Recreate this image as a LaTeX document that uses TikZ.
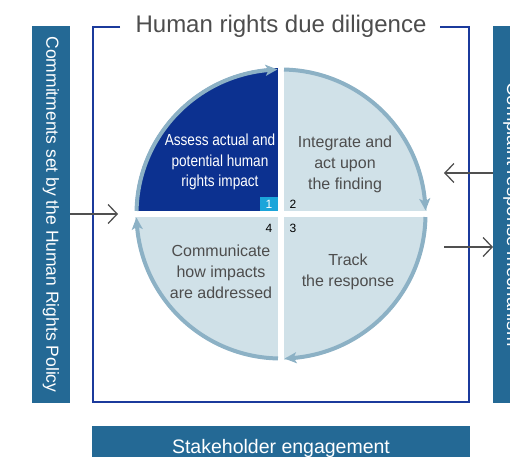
\documentclass[tikz,border=0pt]{standalone}
\usepackage{fontspec}
\setmainfont{Liberation Sans}
\usetikzlibrary{arrows.meta,bending}
\definecolor{barblue}{HTML}{246995}
\definecolor{darkq}{HTML}{0C3190}
\definecolor{lightq}{HTML}{D0E1E8}
\definecolor{arcc}{HTML}{8CB1C5}
\definecolor{framec}{HTML}{1B3A9C}
\definecolor{cyanq}{HTML}{1BA5DA}
\definecolor{txtgray}{HTML}{4D4D4D}
\definecolor{conng}{HTML}{505050}
\begin{document}
\begin{tikzpicture}[x=1pt,y=1pt,
  bar/.style={fill=barblue,draw=none,text=white,inner sep=0pt},
  qtext/.style={align=center,text=txtgray,font=\fontsize{16}{21}\selectfont},
  wtext/.style={align=center,text=white,font=\fontsize{16}{20.5}\selectfont\addfontfeature{FakeStretch=0.85}},
  num/.style={font=\fontsize{12}{12}\selectfont,inner sep=0pt},
  cyc/.style={draw=arcc,line width=4pt,-{Stealth[length=12pt,width=11pt,inset=3pt,bend]}},
  conn/.style={draw=conng,line width=1.3pt,-{Straight Barb[length=9pt,width=19pt,line width=1.3pt]}}
]
\useasboundingbox (0,0) rectangle (510,456);
\def\cx{281}\def\cy{242}\def\R{146}\def\r{144.5}
% quadrants
\fill[darkq] (\cx,\cy) -- ++(180:\R) arc[start angle=180,end angle=90,radius=\R] -- cycle;
\fill[lightq] (\cx,\cy) -- ++(90:\R) arc[start angle=90,end angle=-90,radius=\R] -- cycle;
\fill[lightq] (\cx,\cy) -- ++(270:\R) arc[start angle=270,end angle=180,radius=\R] -- cycle;
\draw[white,line width=6pt] (\cx-\R-3,\cy) -- (\cx+\R+3,\cy);
\draw[white,line width=6pt] (\cx,\cy-\R-3) -- (\cx,\cy+\R+3);
% cycle arcs
\draw[cyc] (\cx,\cy) ++(178.8:\r) arc[start angle=178.8,end angle=91.4,radius=\r];
\draw[cyc] (\cx,\cy) ++(88.8:\r) arc[start angle=88.8,end angle=1.4,radius=\r];
\draw[cyc] (\cx,\cy) ++(-1.2:\r) arc[start angle=-1.2,end angle=-88.6,radius=\r];
\draw[cyc] (\cx,\cy) ++(268.8:\r) arc[start angle=268.8,end angle=181.4,radius=\r];
% number badge
\fill[cyanq] (260,245) rectangle (278,259);
\node[num,text=white] (n1) at (269,252) {1};
\node[num] (n2) at (293,252) {2};
\node[num] (n3) at (293,228) {3};
\node[num] (n4) at (269,228) {4};
% quadrant texts
\node[wtext] (q1) at (220,294) {Assess actual and\\potential human\\rights impact};
\node[qtext] (q2) at (345,292) {Integrate and\\act upon\\the finding};
\node[qtext] (q3) at (348,184) {Track\\the response};
\node[qtext] (q4) at (221,184) {Communicate\\how impacts\\are addressed};
% frame
\node[text=txtgray,font=\fontsize{24}{24}\selectfont,inner sep=0pt] (title) at (281,430) {Human rights due diligence};
\draw[framec,line width=1.8pt] (120,429) -- (93,429) -- (93,54) -- (469,54) -- (469,429) -- (440,429);
% side bars
\node[bar,rotate=-90,minimum width=377pt,minimum height=38pt,font=\fontsize{17.5}{17.5}\selectfont] (lbar) at (51,241.5) {Commitments set by the Human Rights Policy};
\node[bar,rotate=-90,minimum width=377pt,minimum height=38pt,font=\fontsize{18.5}{18.5}\selectfont] (rbar) at (512,241.5) {Complaint response mechanism};
\node[bar,minimum width=378pt,minimum height=36pt,anchor=north] (sbar) at (281,30) {};
\node[text=white,font=\fontsize{19.5}{19.5}\selectfont,anchor=base,inner sep=0pt] (stxt) at (281,3) {Stakeholder engagement};
% connectors
\coordinate (la0) at (70,242); \coordinate (la1) at (118,242);
\coordinate (ra0) at (493,283); \coordinate (ra1) at (444,283);
\coordinate (rb0) at (444,209); \coordinate (rb1) at (493,209);
\draw[conn] (la0) -- (la1);
\draw[conn] (ra0) -- (ra1);
\draw[conn] (rb0) -- (rb1);
\end{tikzpicture}
\end{document}
